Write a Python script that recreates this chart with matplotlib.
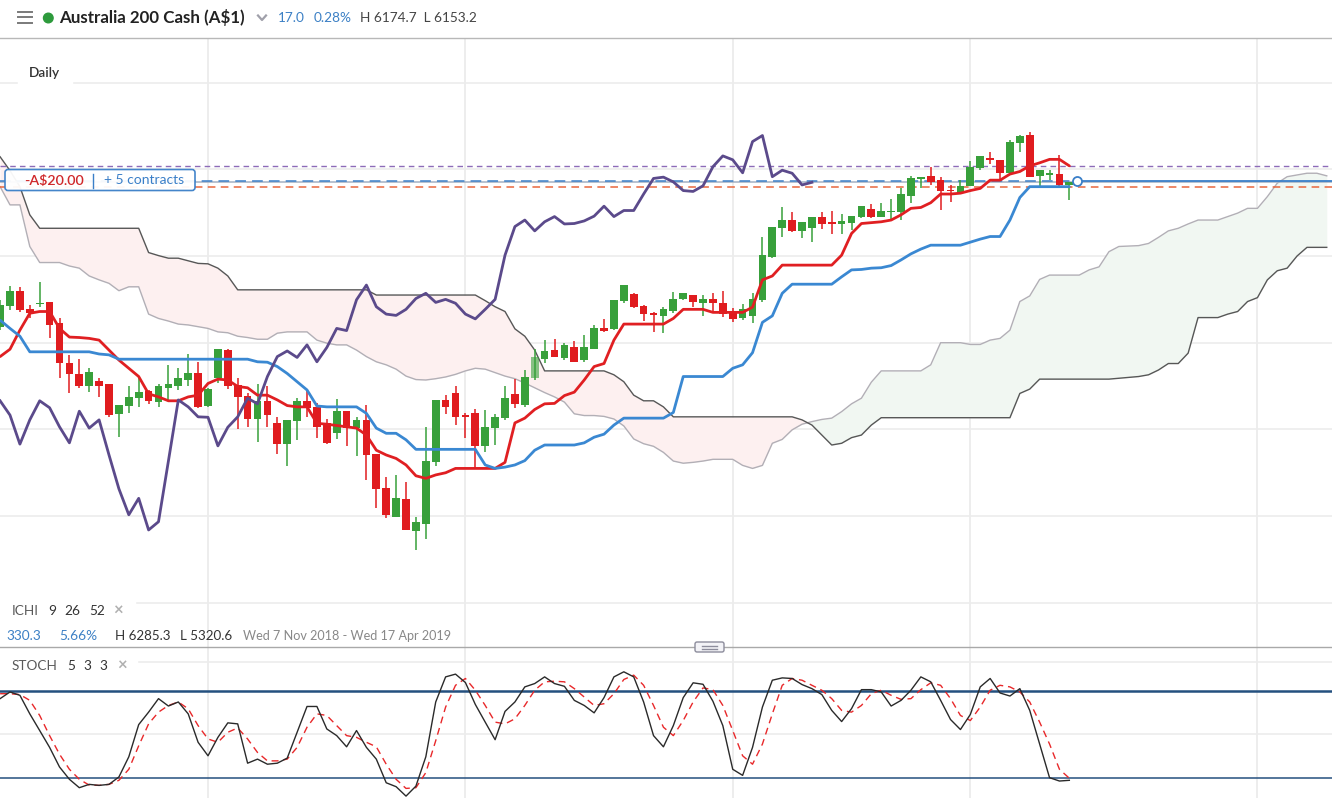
import numpy as np
import matplotlib.pyplot as plt
from matplotlib.patches import FancyBboxPatch, Rectangle, Circle

plt.rcParams['font.family'] = ['Lato', 'DejaVu Sans']

# daily candles, Australia 200 Cash
opens = [5837, 5885, 5919, 5877, 5889, 5893, 5845, 5753, 5727, 5701,
         5712, 5704, 5635, 5655, 5673, 5689, 5664, 5696, 5700, 5714,
         5729, 5654, 5718, 5783, 5702, 5678, 5624, 5666, 5615, 5566,
         5620, 5666, 5652, 5614, 5592, 5642, 5603, 5622, 5543, 5465,
         5399, 5439, 5366, 5382, 5525, 5668, 5683, 5633, 5637, 5562,
         5604, 5627, 5681, 5656, 5718, 5762, 5783, 5765, 5789, 5759,
         5786, 5833, 5831, 5896, 5912, 5885, 5869, 5862, 5874, 5900,
         5910, 5892, 5900, 5892, 5872, 5856, 5862, 5899, 5998, 6064,
         6083, 6058, 6064, 6089, 6078, 6075, 6077, 6091, 6108, 6091,
         6102, 6102, 6139, 6177, 6185, 6175, 6152, 6145, 6162, 6202,
         6225, 6222, 6192, 6261, 6279, 6185, 6187, 6189, 6164]
highs = [5899, 5931, 5929, 5887, 5941, 5893, 5856, 5772, 5762, 5741,
         5718, 5704, 5656, 5700, 5718, 5691, 5705, 5749, 5741, 5774,
         5755, 5695, 5786, 5786, 5718, 5683, 5704, 5699, 5629, 5622,
         5672, 5691, 5660, 5624, 5670, 5642, 5628, 5656, 5543, 5490,
         5495, 5478, 5399, 5606, 5668, 5679, 5699, 5637, 5647, 5645,
         5636, 5699, 5716, 5737, 5786, 5806, 5809, 5799, 5804, 5818,
         5841, 5855, 5899, 5933, 5915, 5887, 5872, 5883, 5916, 5915,
         5910, 5910, 5915, 5919, 5879, 5889, 5915, 6045, 6068, 6112,
         6102, 6079, 6091, 6102, 6104, 6096, 6092, 6115, 6119, 6123,
         6131, 6156, 6185, 6182, 6206, 6182, 6164, 6175, 6219, 6231,
         6241, 6222, 6268, 6279, 6285, 6198, 6198, 6233, 6171]
lows = [5829, 5875, 5871, 5856, 5882, 5810, 5718, 5683, 5695, 5687,
        5674, 5629, 5583, 5637, 5652, 5658, 5651, 5668, 5691, 5700,
        5649, 5652, 5708, 5693, 5601, 5606, 5572, 5606, 5543, 5516,
        5576, 5629, 5581, 5566, 5578, 5562, 5539, 5483, 5418, 5395,
        5399, 5368, 5321, 5347, 5516, 5635, 5610, 5581, 5510, 5549,
        5564, 5622, 5650, 5652, 5714, 5754, 5766, 5760, 5755, 5756,
        5786, 5825, 5829, 5892, 5879, 5851, 5825, 5822, 5868, 5899,
        5882, 5862, 5869, 5859, 5848, 5852, 5846, 5895, 5995, 6045,
        6056, 6041, 6033, 6062, 6051, 6050, 6060, 6087, 6087, 6091,
        6083, 6083, 6123, 6158, 6164, 6106, 6125, 6143, 6162, 6198,
        6212, 6173, 6192, 6239, 6183, 6162, 6175, 6160, 6129]
closes = [5887, 5919, 5875, 5868, 5892, 5842, 5753, 5727, 5701, 5732,
          5701, 5633, 5656, 5675, 5686, 5666, 5700, 5704, 5719, 5729,
          5652, 5693, 5786, 5699, 5675, 5624, 5666, 5633, 5566, 5622,
          5666, 5650, 5606, 5569, 5642, 5603, 5622, 5541, 5463, 5403,
          5441, 5368, 5387, 5527, 5668, 5652, 5629, 5628, 5562, 5605,
          5629, 5672, 5659, 5722, 5768, 5781, 5766, 5795, 5756, 5789,
          5833, 5828, 5899, 5933, 5883, 5866, 5863, 5877, 5902, 5914,
          5893, 5900, 5891, 5866, 5855, 5877, 5900, 6002, 6068, 6083,
          6058, 6079, 6091, 6074, 6075, 6081, 6092, 6115, 6091, 6105,
          6105, 6143, 6179, 6182, 6171, 6151, 6149, 6162, 6206, 6231,
          6222, 6192, 6264, 6278, 6183, 6198, 6191, 6164, 6170]

# ichimoku 9 26 52
tenkan = [5768, 5785, 5829, 5868, 5872, 5872, 5833, 5813, 5812, 5810,
          5806, 5783, 5760, 5741, 5722, 5682, 5675, 5666, 5666, 5675,
          5679, 5706, 5716, 5714, 5699, 5696, 5679, 5679, 5668, 5655,
          5652, 5652, 5614, 5612, 5609, 5606, 5603, 5587, 5552, 5541,
          5533, 5518, 5493, 5487, 5495, 5500, 5510, 5510, 5510, 5510,
          5510, 5524, 5615, 5626, 5646, 5659, 5660, 5678, 5686, 5714,
          5745, 5752, 5806, 5843, 5843, 5843, 5843, 5843, 5856, 5877,
          5877, 5877, 5870, 5870, 5870, 5870, 5882, 5945, 5954, 5979,
          5979, 5979, 5979, 5979, 5979, 6002, 6052, 6075, 6077, 6079,
          6083, 6095, 6110, 6112, 6123, 6143, 6143, 6145, 6151, 6156,
          6175, 6175, 6189, 6195, 6208, 6215, 6223, 6223, 6208]
kijun = ([5852, 5833, 5815] + [5779] * 7 + [5774, 5772] + [5762] * 14
         + [5756, 5755, 5745, 5729, 5710, 5691, 5654] + [5652] * 4
         + [5637, 5603, 5591, 5591, 5576] + [5554] * 7
         + [5518, 5510, 5513, 5518, 5528, 5552] + [5564] * 4
         + [5569, 5582, 5589, 5610] + [5626] * 5 + [5639] + [5722] * 5
         + [5741, 5749, 5777, 5847, 5862, 5914] + [5935] * 5
         + [5952, 5968, 5969, 5972, 5973, 5978, 5991, 6005, 6016] + [6025] * 4
         + [6032, 6039, 6045, 6045, 6083, 6135] + [6160] * 5)
span_a = [6160, 6118, 6118, 6022, 5985, 5985, 5985, 5977, 5972, 5954,
          5945, 5937, 5920, 5929, 5929, 5866, 5856, 5850, 5843, 5841,
          5837, 5833, 5825, 5823, 5815, 5812, 5808, 5808, 5822, 5825,
          5825, 5825, 5806, 5799, 5795, 5795, 5783, 5768, 5756, 5749,
          5739, 5723, 5715, 5714, 5717, 5721, 5727, 5735, 5741, 5739,
          5731, 5723, 5717, 5707, 5696, 5685, 5675, 5663, 5636, 5632,
          5632, 5630, 5624, 5608, 5578, 5567, 5561, 5547, 5527, 5522,
          5524, 5527, 5531, 5531, 5531, 5517, 5510, 5517, 5568, 5577,
          5599, 5612, 5618, 5623, 5626, 5641, 5659, 5672, 5709, 5735,
          5735, 5735, 5735, 5735, 5749, 5800, 5800, 5800, 5796, 5796,
          5806, 5810, 5829, 5895, 5908, 5946, 5956, 5956, 5956, 5956,
          5968, 5975, 6010, 6022, 6023, 6024, 6029, 6043, 6058, 6064,
          6074, 6083, 6083, 6083, 6091, 6099, 6110, 6110, 6137, 6168,
          6183, 6187, 6191, 6191, 6185]
span_b = ([6229, 6197, 6160, 6095] + [6064] * 11
          + [6008, 6001, 5995, 5995, 5989, 5983, 5982, 5972, 5954]
          + [5922] * 14 + [5910] * 11 + [5897, 5883, 5872, 5832, 5815, 5783]
          + [5735] * 7 + [5726, 5710, 5679, 5666, 5666, 5652] + [5629] * 13
          + [5622, 5610, 5587, 5564, 5568, 5581, 5587, 5610] + [5627] * 14
          + [5683, 5693] + [5716] * 8
          + [5718, 5720, 5722, 5726, 5737, 5752, 5752, 5776, 5858, 5858,
             5858, 5866, 5872, 5895, 5904, 5945, 5966, 5972, 6000, 6020,
             6020, 6020])
lag = 26

# stochastic 5 3 3
stoch_k = [74.7, 79.3, 77, 64.2, 52.7, 41.1, 27.6, 19.1, 13.3, 15.6,
           14.9, 15.6, 20.7, 34.6, 56.8, 65.4, 74.7, 69.6, 72.4, 64.2,
           44.6, 35.3, 48, 58, 57.3, 30.2, 33, 29.5, 30.2, 33.7,
           51.5, 69.3, 69.3, 53.8, 49.2, 41.5, 52.7, 41.1, 33, 16.7,
           14, 7.5, 14.4, 34.6, 72.4, 89.7, 91.6, 85.8, 70.7, 58.5,
           46.4, 65.9, 72.4, 82.8, 85.1, 89.7, 85.1, 83.2, 73.5, 70,
           64.9, 75.4, 89.7, 93.2, 89.7, 72.4, 49.2, 41.5, 56.1, 75.4,
           85.6, 84.6, 72.9, 56.1, 26, 21.8, 41.1, 68.9, 87.4, 89,
           88.6, 84.4, 81.6, 77.5, 66.6, 58.9, 67.8, 80.9, 80.9, 79.3,
           69.6, 73.5, 80.5, 89.7, 86.3, 73.5, 60.3, 53.4, 63.8, 82.8,
           88.6, 78.6, 76.5, 81.6, 66.6, 43.4, 20.2, 17.9, 18.4]
stoch_d = [78.1, 78.1, 77.5, 73.5, 63.1, 49.2, 36.4, 26, 19.1, 15.1,
           14.9, 15.6, 18.4, 26, 42.2, 57.3, 65.4, 70, 72.4, 67.7,
           56.1, 46.9, 44.6, 51.5, 54.5, 46.9, 37.6, 31.8, 31.8, 33,
           41.1, 55, 64.2, 63.1, 56.1, 49.2, 48, 44.6, 41.5, 29.5,
           19.1, 12.8, 13.3, 23.7, 45.7, 68.9, 83.9, 88.6, 80.5, 70,
           58.5, 57.3, 60.8, 70, 80.5, 86.3, 86.7, 86.3, 81.6, 75.8,
           70, 71.2, 78.1, 87.9, 90.9, 83.9, 70, 55, 49.2, 59.6,
           72.4, 82.1, 80.9, 70, 52.7, 35.3, 29.5, 43.4, 64.2, 83.9,
           88.6, 87.4, 83.9, 80.5, 74.7, 66.6, 65.4, 70, 78.1, 80.5,
           77, 74.2, 74.7, 80.9, 85.6, 83.9, 74.7, 63.1, 59.6, 68.9,
           80.5, 83.9, 82.8, 79.3, 72.4, 58.5, 43.4, 26, 19.8]

month_starts = [21, 47, 74, 98, 127]
price_grid = [5200, 5400, 5600, 5800, 6000, 6200, 6400]
limit_level = 6207
order_level = 6173.7
stop_level = 6159

GREEN = '#38a03b'
RED = '#e01c1f'

fig = plt.figure(figsize=(13.32, 7.98), dpi=100)
ax = fig.add_axes([0, 151 / 798, 1, 609 / 798])
sx = fig.add_axes([0, 0, 1, 151 / 798])
for a in (ax, sx):
    a.set_xlim(-0.01, 134.53)
    a.axis('off')
    for m in month_starts:
        a.axvline(m, color='#e8e8e8', lw=1.1, zorder=0)
ax.set_ylim(5098, 6503)
sx.set_ylim(6.2, 110.3)

for p in price_grid:
    ax.axhline(p, color='#ececec', lw=1.2, zorder=0)

# cloud
j = np.arange(len(span_a))
sa = np.array(span_a, float)
sb = np.array(span_b, float)
ax.fill_between(j, sa, sb, where=sa < sb, interpolate=True, color='#fdf0f0', lw=0, zorder=1)
ax.fill_between(j, sa, sb, where=sa >= sb, interpolate=True, color='#f1f7f2', lw=0, zorder=1)
ax.plot(j, sa, color='#b2afb6', lw=1.0, zorder=2)
ax.plot(j, sb, color='#575757', lw=1.0, zorder=2)

# price lines
last_i = len(closes) - 1
mark_x = last_i + 0.8
ax.axhline(limit_level, color='#8d6bb8', lw=1.0, ls=(0, (4, 3)), zorder=2.5)
ax.axhline(closes[-1], color='#a3b0c2', lw=1.1, zorder=2.5)
ax.hlines(order_level, 0, mark_x, color='#3a7fc8', lw=1.1, linestyles=[(0, (7, 4))], zorder=2.5)
ax.hlines(order_level, mark_x, 135, color='#3a7fc8', lw=1.3, zorder=2.5)
ax.axhline(stop_level, color='#e8673d', lw=1.1, ls=(0, (5, 3.5)), zorder=2.5)

# candles
idx = np.arange(len(closes))
o = np.array(opens, float)
c = np.array(closes, float)
cols = np.where(c >= o, GREEN, RED)
ax.vlines(idx, lows, highs, colors=cols, lw=1.1, zorder=3)
bars = ax.bar(idx, np.maximum(np.abs(c - o), 2.5), bottom=np.minimum(o, c),
              width=0.78, color=cols, lw=0, zorder=3.1)
bars[54].set_alpha(0.6)

# ichimoku lines
ax.plot(idx, tenkan, color='#e01f22', lw=2.0, zorder=4, solid_capstyle='round')
ax.plot(idx, kijun, color='#3a88d2', lw=2.0, zorder=4, solid_capstyle='round')
ax.plot(idx[:len(closes) - lag], closes[lag:], color='#5b4a8b', lw=2.0, zorder=4)
ax.plot([mark_x], [order_level], 'o', ms=6.5, mfc='white', mec='#3a7fc8', mew=1.3, zorder=6)

# stochastic
sx.axhline(100, color='#ececec', lw=1.2, zorder=0)
sx.axhline(50, color='#ececec', lw=1.2, zorder=0)
sx.axhline(80, color='#24507f', lw=1.8, zorder=1)
sx.axhline(20, color='#24507f', lw=1.1, zorder=1)
sx.plot(idx, stoch_d, color='#e8282a', lw=1.0, ls=(0, (5, 3.5)), zorder=2)
sx.plot(idx, stoch_k, color='#2a2a2a', lw=1.0, zorder=3)

# overlay in pixels
ov = fig.add_axes([0, 0, 1, 1], zorder=10)
ov.set_xlim(0, 1332)
ov.set_ylim(798, 0)
ov.axis('off')

ov.plot([0, 1332], [37.5, 37.5], color='#b8b8b8', lw=1.0)
for yy in (11.7, 17.3, 22.9):
    ov.plot([18, 32], [yy, yy], color='#7a7a7a', lw=1.4)
ov.add_patch(Circle((48.3, 18), 4.8, color='#2d9a3c'))
ov.text(59, 18, 'Australia 200 Cash (A$1)', fontsize=12.2, fontweight='bold',
        color='#222222', va='center', ha='left')
ov.plot([258, 262, 266], [15.5, 20, 15.5], color='#a0a0aa', lw=1.6)
ov.text(278, 18, '17.0', fontsize=9.8, color='#3c80c5', va='center')
ov.text(314, 18, '0.28%', fontsize=9.8, color='#3c80c5', va='center')
ov.text(360, 18, 'H 6174.7  L 6153.2', fontsize=9.8, color='#444444', va='center')

ov.add_patch(Rectangle((18, 62), 54, 22, color='white', zorder=1))
ov.text(29, 73, 'Daily', fontsize=9.8, fontweight='semibold', color='#333333',
        va='center', zorder=2)

box = FancyBboxPatch((5, 169.5), 190, 21, boxstyle='round,pad=0,rounding_size=3',
                     fc='white', ec='#3a7fc8', lw=1.2, alpha=0.95, zorder=3)
ov.add_patch(box)
ov.text(24, 180.5, '-A$20.00', fontsize=10.3, fontweight='semibold', color='#d0282a',
        va='center', zorder=4)
ov.plot([93.3, 93.3], [173.5, 187.5], color='#3a7fc8', lw=1.0, zorder=4)
ov.text(104, 180.5, '+ 5 contracts', fontsize=10, color='#3a7fc8', va='center', zorder=4)

ov.add_patch(Rectangle((0, 597), 135, 26, color='white', zorder=1))
ov.text(12, 611, 'ICHI', fontsize=9.8, color='#5a5a5a', va='center', zorder=2)
for tx, s in ((48, '9'), (64, '26'), (89, '52')):
    ov.text(tx, 611, s, fontsize=9.8, color='#333333', va='center', zorder=2)
ov.text(113, 611, '\u00d7', fontsize=12, fontweight='bold', color='#b0b0b0', va='center', zorder=2)
ov.text(6, 636, '330.3', fontsize=9.8, color='#3c80c5', va='center')
ov.text(59, 636, '5.66%', fontsize=9.8, color='#3c80c5', va='center')
ov.text(115, 636, 'H 6285.3', fontsize=9.6, color='#333333', va='center')
ov.text(180, 636, 'L 5320.6', fontsize=9.6, color='#333333', va='center')
ov.text(243, 636, 'Wed 7 Nov 2018 - Wed 17 Apr 2019', fontsize=9.1, color='#888888', va='center')

ov.plot([0, 1332], [647.3, 647.3], color='#a9a9a9', lw=1.0, zorder=1)
handle = FancyBboxPatch((695, 642), 29, 10, boxstyle='round,pad=0,rounding_size=2',
                        fc='#f3f3f7', ec='#8d8d9c', lw=1.0, zorder=2)
ov.add_patch(handle)
for yy in (645.7, 648.5):
    ov.plot([702, 717], [yy, yy], color='#8d8d9c', lw=1.0, zorder=3)

ov.add_patch(Rectangle((0, 655), 137, 22, color='white', zorder=1))
ov.text(12, 666, 'STOCH', fontsize=9.8, color='#5a5a5a', va='center', zorder=2)
for tx, s in ((67, '5'), (83, '3'), (99, '3')):
    ov.text(tx, 666, s, fontsize=9.8, color='#333333', va='center', zorder=2)
ov.text(117, 666, '\u00d7', fontsize=12, fontweight='bold', color='#b0b0b0', va='center', zorder=2)

fig.savefig('out.png', dpi=100, facecolor='white')
